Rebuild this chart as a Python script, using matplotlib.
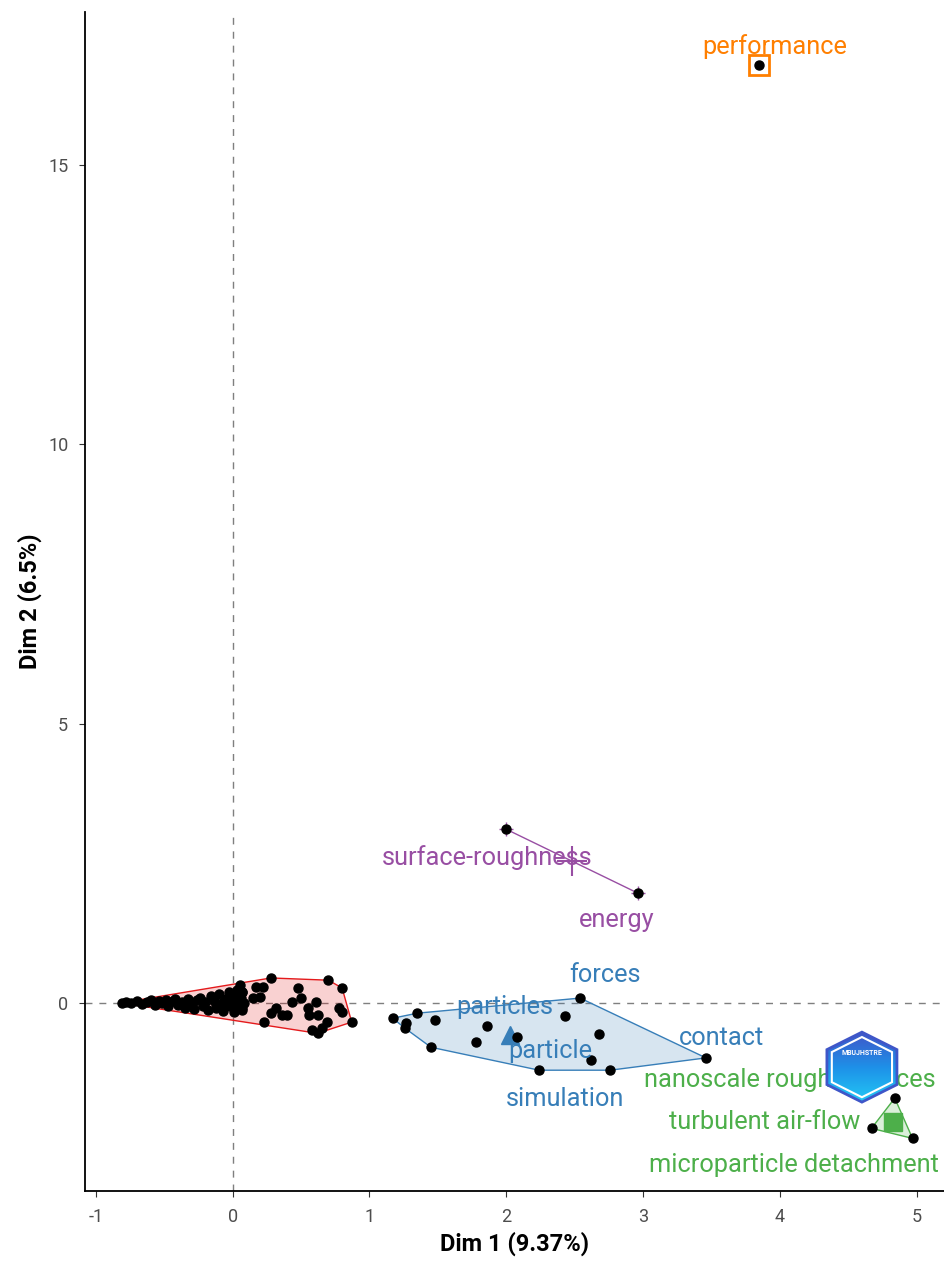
import numpy as np
import matplotlib.pyplot as plt
from matplotlib.patches import Polygon
from matplotlib.colors import LinearSegmentedColormap

plt.rcParams['font.family'] = ['Roboto', 'DejaVu Sans']
plt.rcParams['axes.unicode_minus'] = False

# cluster colours (Set1)
colors = {1: '#E41A1C', 2: '#377EB8', 3: '#984EA3', 4: '#FF7F00', 5: '#4DAF4A'}

# cluster 1 : the unlabeled bulk of terms
c1_x = [-0.81, -0.78, -0.74, -0.70, -0.66, -0.63, -0.60, -0.57, -0.54, -0.52,
        -0.49, -0.47, -0.44, -0.42, -0.40, -0.37, -0.35, -0.33, -0.30, -0.28,
        -0.26, -0.24, -0.22, -0.20, -0.18, -0.16, -0.14, -0.12, -0.10, -0.08,
        -0.07, -0.05, -0.03, -0.02, 0.00, 0.01, 0.02, 0.03, 0.04, 0.05,
        0.06, 0.07, 0.07, 0.08,
        0.28, 0.17, 0.22, 0.15, 0.20, 0.07, 0.07, 0.48, 0.70, 0.80,
        0.43, 0.50, 0.61, 0.32, 0.28, 0.36, 0.40, 0.23, 0.55, 0.56,
        0.62, 0.78, 0.80, 0.87, 0.69, 0.58, 0.62, 0.65]
c1_y = [0.00, 0.02, 0.00, 0.03, -0.02, 0.02, 0.05, -0.03, 0.04, 0.00,
        0.06, -0.05, 0.03, 0.07, -0.04, 0.02, -0.08, 0.08, 0.00, -0.10,
        0.06, 0.10, -0.06, 0.02, -0.12, 0.12, 0.04, -0.08, 0.16, 0.00,
        -0.14, 0.08, 0.20, -0.05, 0.12, -0.15, 0.03, 0.24, -0.08, 0.32,
        0.10, -0.12, 0.20, 0.00,
        0.45, 0.29, 0.29, 0.09, 0.11, 0.20, -0.09, 0.27, 0.41, 0.27,
        0.02, 0.09, 0.02, -0.09, -0.18, -0.21, -0.21, -0.34, -0.09, -0.21,
        -0.21, -0.09, -0.16, -0.34, -0.34, -0.48, -0.54, -0.45]

# cluster 2
c2_x = [1.17, 1.35, 1.27, 1.26, 1.48, 1.45, 1.86, 1.78, 2.08, 2.43,
        2.54, 2.68, 2.62, 2.24, 2.76, 3.46]
c2_y = [-0.27, -0.18, -0.36, -0.45, -0.30, -0.79, -0.41, -0.70, -0.61, -0.23,
        0.09, -0.55, -1.02, -1.20, -1.20, -0.98]
c2_names = ['forces', 'particles', 'particle', 'contact', 'simulation']

# cluster 3
c3_x = [2.00, 2.96]
c3_y = [3.11, 1.97]
c3_names = ['surface-roughness', 'energy']

# cluster 4
c4_x = [3.85]
c4_y = [16.78]
c4_names = ['performance']

# cluster 5
c5_x = [4.84, 4.67, 4.97]
c5_y = [-1.70, -2.24, -2.42]
c5_names = ['nanoscale rough surfaces', 'turbulent air-flow', 'microparticle detachment']

# label anchor positions (repelled away from the points)
label_pos = {
    'performance': (3.96, 17.12),
    'surface-roughness': (1.86, 2.61), 'energy': (2.81, 1.48),
    'forces': (2.72, 0.50), 'particles': (1.99, -0.07), 'particle': (2.32, -0.86),
    'contact': (3.57, -0.63), 'simulation': (2.43, -1.72),
    'nanoscale rough surfaces': (4.07, -1.36), 'turbulent air-flow': (3.89, -2.13),
    'microparticle detachment': (4.10, -2.90),
}


def hull(xs, ys):
    pts = sorted(set(zip(xs, ys)))
    if len(pts) < 3:
        return pts

    def cross(o, a, b):
        return (a[0] - o[0]) * (b[1] - o[1]) - (a[1] - o[1]) * (b[0] - o[0])
    lower, upper = [], []
    for p in pts:
        while len(lower) >= 2 and cross(lower[-2], lower[-1], p) <= 0:
            lower.pop()
        lower.append(p)
    for p in reversed(pts):
        while len(upper) >= 2 and cross(upper[-2], upper[-1], p) <= 0:
            upper.pop()
        upper.append(p)
    return lower[:-1] + upper[:-1]


fig = plt.figure(figsize=(9.44, 12.64), dpi=100)
ax = fig.add_axes([0.09, 0.0578, 0.91, 0.9327])

ax.axhline(0, color='#7f7f7f', ls=(0, (5, 5)), lw=1, zorder=0)
ax.axvline(0, color='#7f7f7f', ls=(0, (5, 5)), lw=1, zorder=0)

for k, (xs, ys) in {1: (c1_x, c1_y), 2: (c2_x, c2_y), 3: (c3_x, c3_y),
                    5: (c5_x, c5_y)}.items():
    h = hull(xs, ys)
    if len(h) >= 3:
        ax.add_patch(Polygon(h, closed=True, facecolor=colors[k], alpha=0.2,
                             edgecolor='none', zorder=1))
        ax.add_patch(Polygon(h, closed=True, facecolor='none',
                             edgecolor=colors[k], lw=1, zorder=2))
    else:
        ax.plot([p[0] for p in h], [p[1] for p in h], color=colors[k], lw=1, zorder=2)

# observation markers
ax.plot(c3_x, c3_y, '+', color=colors[3], ms=10, mew=1, zorder=3)
for xs, ys in [(c1_x, c1_y), (c2_x, c2_y), (c3_x, c3_y), (c4_x, c4_y), (c5_x, c5_y)]:
    ax.plot(xs, ys, 'o', color='black', ms=6.5, zorder=5)

# centroids
ax.plot(np.mean(c2_x), np.mean(c2_y), '^', color=colors[2], ms=13, zorder=4)
ax.plot(np.mean(c3_x), np.mean(c3_y), '+', color=colors[3], ms=22, mew=1.5, zorder=4)
ax.plot(c4_x, c4_y, 's', mfc='white', mec=colors[4], mew=2, ms=14, zorder=4)
ax.plot(np.mean(c5_x), np.mean(c5_y), 's', color=colors[5], ms=13, zorder=4)

# logo watermark
hx, hy, rw, rh = 4.60, -1.145, 0.256, 0.626
hexa = [(hx, hy + rh), (hx + rw, hy + rh / 2), (hx + rw, hy - rh / 2),
        (hx, hy - rh), (hx - rw, hy - rh / 2), (hx - rw, hy + rh / 2)]
clip = Polygon(hexa, closed=True, transform=ax.transData)
grad = np.linspace(0, 1, 100).reshape(-1, 1)
cm = LinearSegmentedColormap.from_list('logo', ['#3F56C8', '#1E90E8', '#22C8F5'])
im = ax.imshow(grad, cmap=cm, extent=[hx - rw, hx + rw, hy - rh, hy + rh],
               aspect='auto', zorder=6, origin='upper')
im.set_clip_path(clip)
ax.add_patch(Polygon(hexa, closed=True, fill=False, edgecolor='#3F56C8', lw=2, zorder=7))
inner = [(hx + (px - hx) * 0.86, hy + (py - hy) * 0.86) for px, py in hexa]
ax.add_patch(Polygon(inner, closed=True, fill=False, edgecolor='white', lw=1.5, zorder=7))
ax.text(hx, hy + 0.25, 'MBUJHSTRE', color='white', fontsize=5, fontweight='bold',
        ha='center', va='center', zorder=8)

# labels
fs = 18.3
for names, k in [(c2_names, 2), (c3_names, 3), (c4_names, 4), (c5_names, 5)]:
    for n in names:
        lx, ly = label_pos[n]
        ax.text(lx, ly, n, color=colors[k], fontsize=fs, ha='center', va='center', zorder=5)

ax.set_xlim(-1.08, 5.2)
ax.set_ylim(-3.36, 17.73)
ax.set_xticks(range(-1, 6))
ax.set_yticks([0, 5, 10, 15])
ax.tick_params(labelsize=13, colors='#4d4d4d', length=4, pad=8)
ax.tick_params(axis='both', color='#333333')
for s in ['top', 'right']:
    ax.spines[s].set_visible(False)
for s in ['left', 'bottom']:
    ax.spines[s].set_linewidth(1.3)
ax.set_xlabel('Dim 1 (9.37%)', fontsize=17, fontweight='bold', labelpad=4)
ax.set_ylabel('Dim 2 (6.5%)', fontsize=17, fontweight='bold', labelpad=4)

fig.savefig('out.png', dpi=100)
